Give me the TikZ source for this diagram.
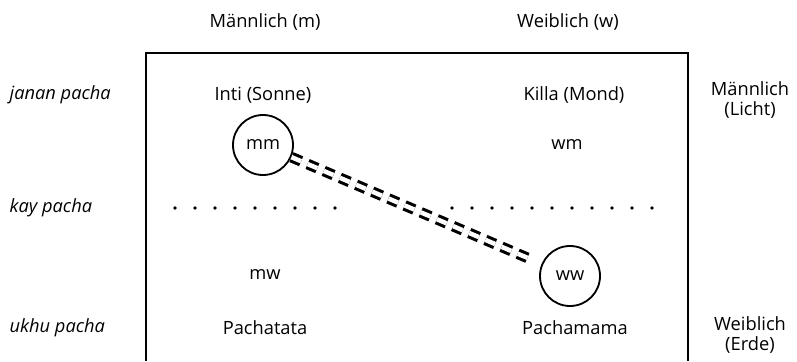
\documentclass[tikz,border=0pt]{standalone}
\usepackage{fontspec}
\setmainfont{Open Sans}
\usepackage{tikz}

\begin{document}
\begin{tikzpicture}[every node/.style={font=\fontsize{13}{14.2}\selectfont, inner sep=1pt},
  world/.style={anchor=west, font=\fontsize{13}{14.2}\selectfont\itshape},
  pair/.style={circle, draw=black, line width=1.3pt, minimum size=1.5cm, inner sep=0pt}]
			\useasboundingbox (0,0) rectangle (19.925,9.025);
			
			\node (m) at (6.625,8.475){Männlich (m)};
			\node (w) at (14.2,8.475){Weiblich (w)};
			
			\node[world] (janan) at (0.2,6.65){janan pacha};
			\node[world] (kay) at (0.2,3.825){kay pacha};
			\node[world] (ukhu) at (0.2,0.825){ukhu pacha};
			
			\node (inti) at (6.575,6.65){Inti (Sonne)};
			\node (killa) at (14.35,6.65){Killa (Mond)};
			\node[pair] (mm) at (6.575,5.4){mm};
			\node (wm) at (14.175,5.4){wm};
			\node (mw) at (6.625,2.15){mw};
			\node[pair] (ww) at (14.25,2.125){ww};
			\node (pachatata) at (6.625,0.825){Pachatata};
			\node (pachamama) at (14.375,0.825){Pachamama};
			
			\node[align=center] (licht) at (18.75,6.525){Männlich\\(Licht)};
			\node[align=center] (erde) at (18.75,0.65){Weiblich\\(Erde)};
			
			% open frame
			\draw[line width=1.4pt] (3.65,0) -- (3.65,7.7) -- (17.2,7.7) -- (17.2,0);
			
			% kay pacha
			\foreach \x in {4.375,4.875,...,8.375} \fill (\x,3.825) circle (0.045);
			\foreach \x in {11.3,11.8,...,16.3} \fill (\x,3.825) circle (0.045);
			
			\draw[line width=2.2pt, double distance=3.2pt, dash pattern=on 7.5pt off 5pt, shorten >=0.3cm] (mm) -- (ww);
			\end{tikzpicture}
\end{document}
